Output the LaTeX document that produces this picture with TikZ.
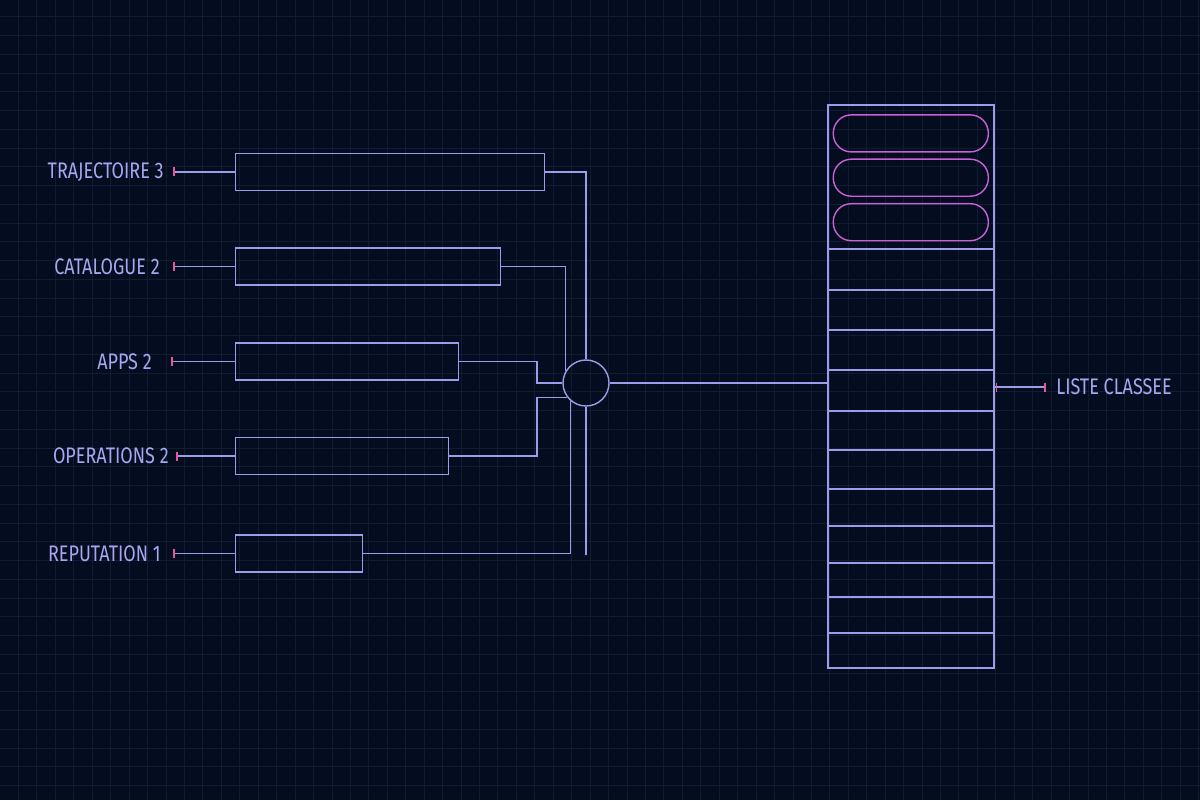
\documentclass[tikz,border=0pt]{standalone}
\usepackage{fontspec}
\setmainfont{Fira Sans}[FakeStretch=0.8]
\usepackage{xcolor}
\usetikzlibrary{calc}

\definecolor{bg}{HTML}{040C20}
\definecolor{gridcol}{HTML}{111C33}
\definecolor{wirecol}{HTML}{9E9BEB}
\definecolor{textcol}{HTML}{A9A6F0}
\definecolor{pillcol}{HTML}{C860D6}
\definecolor{tickcol}{HTML}{E8559F}

\begin{document}
\begin{tikzpicture}[x=0.025cm, y=-0.025cm,
  wire/.style={draw=wirecol, line width=1pt},
  slot/.style={wire, rectangle, minimum height=0.925cm, inner sep=0pt, anchor=west},
  pill/.style={draw=pillcol, line width=1pt, rectangle, rounded corners=0.45cm,
    minimum width=3.875cm, minimum height=0.925cm, inner sep=0pt},
  lbl/.style={text=textcol, font=\fontsize{16}{18}\selectfont, inner sep=0pt},
  pinktick/.style={draw=tickcol, line width=1pt},
  gridline/.style={draw=gridcol, line width=0.6pt}]

  % background and grid
  \fill[bg] (0,0) rectangle (1200,800);
  \useasboundingbox (0,0) rectangle (1200,800);
  \foreach \i in {1,...,65}
    \draw[gridline] (\i*18.44,0) -- (\i*18.44,800);
  \foreach \j in {0,...,42}
    \draw[gridline] (0,16.7+\j*18.75) -- (1200,16.7+\j*18.75);

  % input slots with their labels
  \foreach \n/\y/\w/\lab/\lx/\tx in {1/172/7.725/TRAJECTOIRE 3/164/174,
      2/266.5/6.625/CATALOGUE 2/160/174,
      3/361.5/5.575/APPS 2/152/172,
      4/456/5.325/OPERATIONS 2/169/177,
      5/553.5/3.175/REPUTATION 1/161/174} {
    \node[slot, minimum width=\w cm] (b\n) at (235,\y) {};
    \node[lbl, anchor=east] (l\n) at (\lx,\y) {\lab};
    \coordinate (t\n) at (\tx,\y);
    \draw[wire] (t\n) -- (b\n.west);
    \draw[pinktick] ($(t\n)+(0,-4.5)$) -- ($(t\n)+(0,4.5)$);
  }

  % merge point
  \node[wire, circle, minimum size=1.15cm, inner sep=0pt] (mix) at (586,383) {};
  \coordinate (bus) at (537,383);
  \coordinate (tail) at (586,555);
  \draw[wire] (b1.east) -| (mix.north);
  \draw[wire] (mix.south) -- (tail);
  \draw[wire] (b2.east) -| (mix.150);
  \draw[wire] (b3.east) -| (bus) -- (mix.west);
  \draw[wire] (b4.east) -| (bus |- mix.217) -- (mix.217);
  \draw[wire] (b5.east) -| (mix.229);

  % ranked list
  \node[wire, rectangle, minimum width=4.15cm, minimum height=14.075cm,
    inner sep=0pt] (list) at (911,386.5) {};
  \foreach \r in {249,290,330,370,411,450,489,526,563,597,633}
    \draw[wire] (828,\r) -- (994,\r);
  \node[pill] (p1) at (910.8,133.4) {};
  \node[pill] (p2) at (910.8,177.7) {};
  \node[pill] (p3) at (910.8,222.2) {};
  \draw[wire] (mix.east) -- (mix.east -| list.west);

  % output
  \coordinate (outtick) at (1045,387);
  \draw[wire] (list.east |- outtick) -- (outtick);
  \draw[pinktick] ($(list.east |- outtick)+(2,-4.5)$) -- ($(list.east |- outtick)+(2,4.5)$);
  \draw[pinktick] ($(outtick)+(0,-4.5)$) -- ($(outtick)+(0,4.5)$);
  \node[lbl, anchor=west] (out) at (1056,387) {LISTE CLASSEE};
\end{tikzpicture}
\end{document}
